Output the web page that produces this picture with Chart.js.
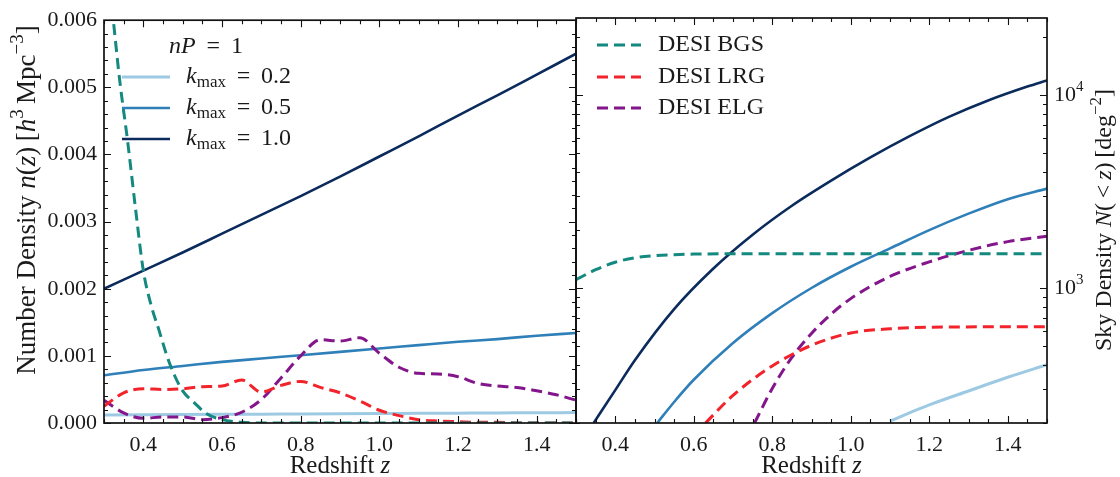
<!DOCTYPE html>
<html>
<head>
<meta charset="utf-8">
<script src="https://cdn.jsdelivr.net/npm/chart.js@4.4.1/dist/chart.umd.min.js"></script>
<style>
  html, body { margin: 0; padding: 0; background: #fff; }
  #wrap { position: relative; width: 1120px; height: 477px; overflow: hidden; }
  canvas { position: absolute; top: 0; }
  #cLeft { left: 0; }
  #cRight { left: 570px; }
</style>
</head>
<body>
<div id="wrap">
  <canvas id="cLeft" width="580" height="477"></canvas>
  <canvas id="cRight" width="550" height="477"></canvas>
</div>
<script>
// ---- data: left panel, number density n(z) ----
const zCoarse = [0.3, 0.4, 0.5, 0.6, 0.7, 0.8, 0.9, 1.0, 1.1, 1.2, 1.3, 1.4, 1.5];
const nK02 = [0.000120, 0.000123, 0.000126, 0.000129, 0.000132, 0.000135, 0.000138, 0.000141, 0.000144, 0.000147, 0.000150, 0.000152, 0.000155];
const nK05 = [0.00071, 0.00079, 0.00085, 0.00091, 0.00096, 0.00101, 0.00106, 0.00111, 0.00116, 0.00121, 0.00125, 0.00130, 0.00134];
const nK10 = [0.00200, 0.00227, 0.00254, 0.00282, 0.00310, 0.00338, 0.00367, 0.00397, 0.00427, 0.00458, 0.00488, 0.00519, 0.00550];

const zGrid = [0.30, 0.35, 0.40, 0.45, 0.50, 0.55, 0.60, 0.65, 0.70, 0.75, 0.80, 0.85, 0.90, 0.95, 1.00, 1.05, 1.10, 1.15, 1.20, 1.25, 1.30, 1.35, 1.40, 1.45, 1.50];
const nLRG = [0.00025, 0.00045, 0.00051, 0.00050, 0.00051, 0.00054, 0.00055, 0.00064, 0.00046, 0.00056, 0.00062, 0.00053, 0.00045, 0.00033, 0.00019, 0.00011, 0.00005, 0.00003, 0.00002, 0.00001, 0.00001, 0, 0, 0, 0];
const nELG = [0.00034, 0.00015, 0.00007, 0.00009, 0.00009, 0.00005, 0.00008, 0.00016, 0.00035, 0.00067, 0.00100, 0.00124, 0.00122, 0.00127, 0.00104, 0.00083, 0.00074, 0.00073, 0.00069, 0.00059, 0.00055, 0.00053, 0.00048, 0.00042, 0.00034];
const zBGS = [0.30, 0.32, 0.34, 0.36, 0.38, 0.40, 0.42, 0.44, 0.46, 0.48, 0.50, 0.53, 0.56, 0.60, 0.65, 0.70, 1.50];
const nBGS = [0.0072, 0.0062, 0.0051, 0.0042, 0.0032, 0.00227, 0.00175, 0.00138, 0.00100, 0.00070, 0.00048, 0.00030, 0.00014, 0.00005, 0.00001, 0, 0];

// ---- data: right panel, sky density N(<z) ----
const zN10 = [0.345, 0.40, 0.45, 0.55, 0.65, 0.75, 0.85, 0.95, 1.05, 1.15, 1.25, 1.35, 1.45, 1.50];
const N10 = [200, 296, 423, 778, 1262, 1888, 2667, 3597, 4742, 6109, 7691, 9354, 11041, 11885];
const zN05 = [0.507, 0.55, 0.60, 0.70, 0.80, 0.90, 1.00, 1.10, 1.20, 1.30, 1.40, 1.50];
const N05 = [200, 257, 335, 519, 741, 1000, 1288, 1603, 1995, 2427, 2884, 3273];
const zN02 = [1.10, 1.20, 1.30, 1.40, 1.50];
const N02 = [205, 248, 293, 345, 401];
const zNBGS = [0.30, 0.35, 0.40, 0.45, 0.50, 0.55, 0.60, 0.70, 1.50];
const NBGS = [1104, 1244, 1360, 1435, 1470, 1488, 1498, 1505, 1505];
const zNLRG = [0.63, 0.70, 0.80, 0.90, 1.00, 1.10, 1.20, 1.50];
const NLRG = [200, 278, 395, 505, 585, 615, 627, 630];
const zNELG = [0.755, 0.80, 0.85, 0.90, 0.95, 1.00, 1.10, 1.20, 1.30, 1.40, 1.50];
const NELG = [200, 302, 437, 582, 733, 881, 1148, 1365, 1567, 1738, 1854];

// ---- ticks ----
const zTicks = [0.4, 0.6, 0.8, 1.0, 1.2, 1.4];
const zMinor = [0.3, 0.35, 0.45, 0.5, 0.55, 0.65, 0.7, 0.75, 0.85, 0.9, 0.95, 1.05, 1.1, 1.15, 1.25, 1.3, 1.35, 1.45, 1.5];
const nTicks = [0, 0.001, 0.002, 0.003, 0.004, 0.005, 0.006];
const nMinor = [0.0002, 0.0004, 0.0006, 0.0008, 0.0012, 0.0014, 0.0016, 0.0018, 0.0022, 0.0024, 0.0026, 0.0028, 0.0032, 0.0034, 0.0036, 0.0038, 0.0042, 0.0044, 0.0046, 0.0048, 0.0052, 0.0054, 0.0056, 0.0058];
const NTicks = [1000, 10000];
const NMinor = [200, 300, 400, 500, 600, 700, 800, 900, 2000, 3000, 4000, 5000, 6000, 7000, 8000, 9000, 20000];

const cK02 = '#9dcae2', cK05 = '#2f7fb9', cK10 = '#0a2b5b';
const cBGS = '#13897f', cLRG = '#f2232a', cELG = '#84168c';
const serif = '"Liberation Serif", "DejaVu Serif", serif';
const dash = [11, 6];

const pts = (xs, ys) => xs.map((x, i) => ({ x: x, y: ys[i] }));

// draws a line of text made of parts: '' roman, 'i' italic, 'sup', 'sub'
function drawRich(ctx, segs, x, y, size, align, rot) {
  ctx.save();
  ctx.translate(x, y);
  ctx.rotate(rot || 0);
  ctx.textBaseline = 'middle';
  ctx.textAlign = 'left';
  ctx.fillStyle = '#1a1a1a';
  const parts = segs.map(([t, s]) => {
    const small = s === 'sup' || s === 'sub';
    const font = (s === 'i' ? 'italic ' : '') + (small ? Math.round(size * 0.7) : size) + 'px ' + serif;
    ctx.font = font;
    return { t, s, font, w: ctx.measureText(t).width };
  });
  const total = parts.reduce((a, p) => a + p.w, 0);
  let cx = align === 'center' ? -total / 2 : 0;
  parts.forEach(p => {
    ctx.font = p.font;
    const dy = p.s === 'sup' ? -size * 0.36 : p.s === 'sub' ? size * 0.22 : 0;
    ctx.fillText(p.t, cx, dy);
    cx += p.w;
  });
  ctx.restore();
}

// frame, inward ticks, legend, axis titles
const panelDecor = {
  id: 'panelDecor',
  afterDraw(chart, args, o) {
    const { ctx, chartArea: a } = chart;
    const xs = chart.scales.x, ys = chart.scales.y;
    ctx.save();
    ctx.strokeStyle = '#111';
    ctx.lineWidth = 1.1;
    const xt = (vals, len) => vals.forEach(v => {
      const p = Math.round(xs.getPixelForValue(v)) + 0.5;
      ctx.beginPath();
      ctx.moveTo(p, a.bottom); ctx.lineTo(p, a.bottom - len);
      ctx.moveTo(p, a.top); ctx.lineTo(p, a.top + len);
      ctx.stroke();
    });
    const yt = (vals, len) => vals.forEach(v => {
      const p = Math.round(ys.getPixelForValue(v)) + 0.5;
      ctx.beginPath();
      ctx.moveTo(a.left, p); ctx.lineTo(a.left + len, p);
      ctx.moveTo(a.right, p); ctx.lineTo(a.right - len, p);
      ctx.stroke();
    });
    xt(zTicks, 7); xt(zMinor, 4);
    yt(o.yMajor, 7); yt(o.yMinor, 4);
    ctx.lineWidth = 1.7;
    ctx.strokeRect(a.left, a.top, a.right - a.left, a.bottom - a.top);

    // legend
    const lg = o.legend;
    if (lg.title) drawRich(ctx, lg.title, lg.titleX, lg.titleY, 24, 'center');
    lg.items.forEach((it, i) => {
      const ds = chart.data.datasets[it.ds];
      const y = lg.ys[i];
      ctx.save();
      ctx.strokeStyle = ds.borderColor;
      ctx.lineWidth = ds.borderWidth;
      ctx.setLineDash(ds.borderDash || []);
      ctx.beginPath();
      ctx.moveTo(lg.x0, y); ctx.lineTo(lg.x1, y);
      ctx.stroke();
      ctx.restore();
      drawRich(ctx, it.text, lg.textX, y, 24, 'left');
    });

    // log tick labels
    if (o.logLabels) {
      o.logLabels.forEach((lab, i) => {
        drawRich(ctx, lab, a.right + 7, ys.getPixelForValue(o.yMajor[i]), 22, 'left');
      });
    }

    // axis titles
    drawRich(ctx, [['Redshift ', ''], ['z', 'i']], (a.left + a.right) / 2, 466, 25, 'center');
    const yt2 = o.yTitle;
    drawRich(ctx, yt2.segs, yt2.x, yt2.y, yt2.size, 'center', -Math.PI / 2);
    ctx.restore();
  }
};

const xScale = () => ({
  type: 'linear', min: 0.3, max: 1.5,
  grid: { display: false, drawTicks: false }, border: { display: false },
  afterBuildTicks: s => { s.ticks = zTicks.map(v => ({ value: v })); },
  afterFit: s => { s.height = 54; },
  ticks: { autoSkip: false, maxRotation: 0, padding: 9, color: '#1a1a1a',
           font: { family: serif, size: 22 }, callback: v => v.toFixed(1) }
});

const lineDs = (label, data, color, width, dashed) => ({
  label, data, borderColor: color, borderWidth: width, borderDash: dashed ? dash : [],
  pointRadius: 0, fill: false, clip: 0, cubicInterpolationMode: 'monotone'
});

const eq = '\u2009=\u2009';

new Chart(document.getElementById('cLeft'), {
  type: 'line',
  data: {
    datasets: [
      lineDs('DESI BGS', pts(zBGS, nBGS), cBGS, 3, true),
      lineDs('DESI LRG', pts(zGrid, nLRG), cLRG, 3, true),
      lineDs('DESI ELG', pts(zGrid, nELG), cELG, 3, true),
      lineDs('kmax = 0.2', pts(zCoarse, nK02), cK02, 3, false),
      lineDs('kmax = 0.5', pts(zCoarse, nK05), cK05, 2.6, false),
      lineDs('kmax = 1.0', pts(zCoarse, nK10), cK10, 2.6, false)
    ]
  },
  options: {
    responsive: false, animation: false, events: [],
    layout: { padding: { top: 18, right: 4, left: 0, bottom: 0 } },
    scales: {
      x: xScale(),
      y: {
        type: 'linear', min: 0, max: 0.006,
        grid: { display: false, drawTicks: false }, border: { display: false },
        afterBuildTicks: s => { s.ticks = nTicks.map(v => ({ value: v })); },
        afterFit: s => { s.width = 104; },
        ticks: { padding: 7, color: '#1a1a1a', font: { family: serif, size: 22 },
                 callback: v => v.toFixed(3) }
      }
    },
    plugins: {
      legend: { display: false }, tooltip: { enabled: false },
      panelDecor: {
        yMajor: nTicks, yMinor: nMinor,
        legend: {
          title: [['n', 'i'], ['P', 'i'], [' ' + eq + ' 1', '']], titleX: 206, titleY: 47,
          x0: 122, x1: 170, textX: 186, ys: [77, 108, 139],
          items: [
            { ds: 3, text: [['k', 'i'], ['max', 'sub'], [' ' + eq + ' 0.2', '']] },
            { ds: 4, text: [['k', 'i'], ['max', 'sub'], [' ' + eq + ' 0.5', '']] },
            { ds: 5, text: [['k', 'i'], ['max', 'sub'], [' ' + eq + ' 1.0', '']] }
          ]
        },
        yTitle: { x: 28, y: 200, size: 27, segs: [['Number Density ', ''], ['n', 'i'], ['(', ''], ['z', 'i'], [')\u2009[', ''], ['h', 'i'], ['3', 'sup'], ['\u2009Mpc', ''], ['\u22123', 'sup'], [']', '']] }
      }
    }
  },
  plugins: [panelDecor]
});

new Chart(document.getElementById('cRight'), {
  type: 'line',
  data: {
    datasets: [
      lineDs('DESI BGS', pts(zNBGS, NBGS), cBGS, 3, true),
      lineDs('DESI LRG', pts(zNLRG, NLRG), cLRG, 3, true),
      lineDs('DESI ELG', pts(zNELG, NELG), cELG, 3, true),
      lineDs('kmax = 0.2', pts(zN02, N02), cK02, 3, false),
      lineDs('kmax = 0.5', pts(zN05, N05), cK05, 2.6, false),
      lineDs('kmax = 1.0', pts(zN10, N10), cK10, 2.6, false)
    ]
  },
  options: {
    responsive: false, animation: false, events: [],
    layout: { padding: { top: 18, right: 0, left: 6, bottom: 0 } },
    scales: {
      x: xScale(),
      y: {
        type: 'logarithmic', position: 'right', min: 200, max: 25000,
        grid: { display: false, drawTicks: false }, border: { display: false },
        afterFit: s => { s.width = 73; },
        ticks: { display: false }
      }
    },
    plugins: {
      legend: { display: false }, tooltip: { enabled: false },
      panelDecor: {
        yMajor: NTicks, yMinor: NMinor,
        logLabels: [[['10', ''], ['3', 'sup']], [['10', ''], ['4', 'sup']]],
        legend: {
          title: null,
          x0: 27, x1: 71, textX: 88, ys: [45, 77, 108],
          items: [
            { ds: 0, text: [['DESI BGS', '']] },
            { ds: 1, text: [['DESI LRG', '']] },
            { ds: 2, text: [['DESI ELG', '']] }
          ]
        },
        yTitle: { x: 535, y: 220, size: 24, segs: [['Sky Density ', ''], ['N', 'i'], ['(\u2009<\u2009', ''], ['z', 'i'], [')\u2009[deg', ''], ['\u22122', 'sup'], [']', '']] }
      }
    }
  },
  plugins: [panelDecor]
});
</script>
</body>
</html>
